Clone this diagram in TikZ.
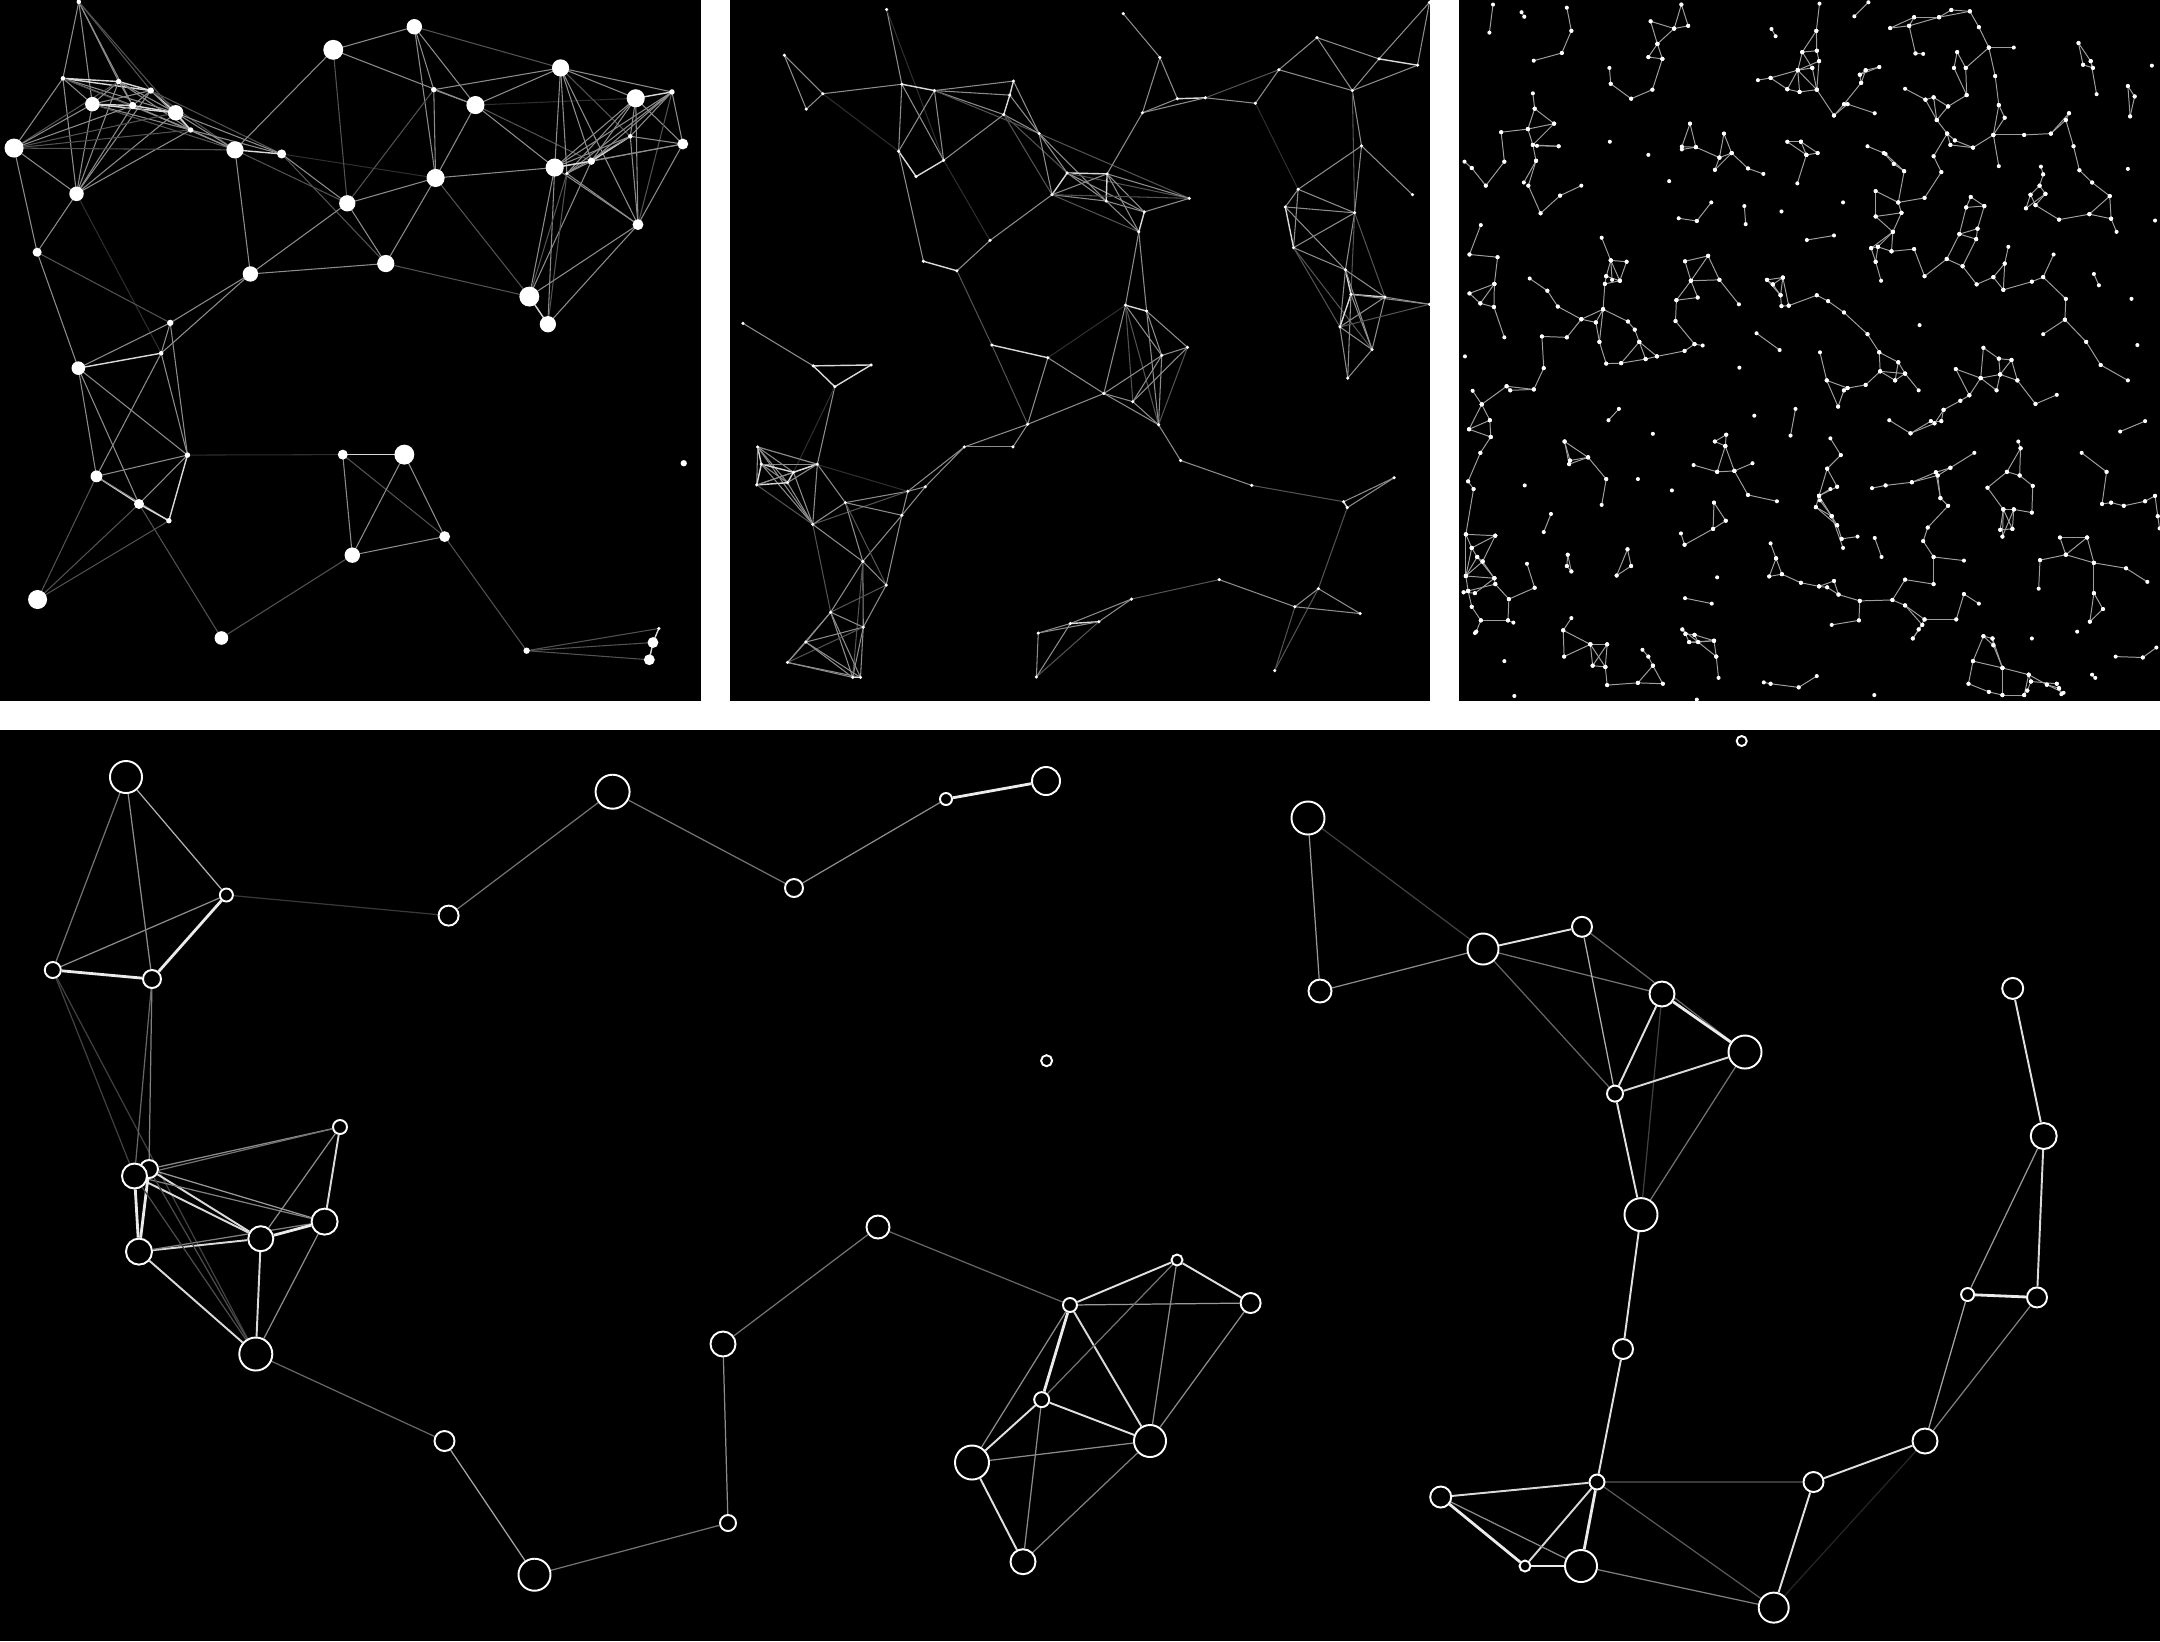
\documentclass[tikz,border=0pt]{standalone}
\pgfdeclarelayer{bg}
\pgfdeclarelayer{edgelayer}
\pgfsetlayers{bg,edgelayer,main}
\tikzset{
  eb/.style={draw=white!85!black, line width=0.4pt},
  em/.style={draw=white!55!black, line width=0.3pt},
  ed/.style={draw=white!32!black, line width=0.3pt},
  ef/.style={draw=white!18!black, line width=0.3pt},
  ethree/.style={draw=white!62!black, line width=0.28pt},
  bn/.style={circle, draw=white, fill=black, line width=0.55pt, inner sep=0pt, minimum size=#1},
  bthin/.style={draw=white!#1!black, line width=0.35pt},
  bmid/.style={draw=white!#1!black, line width=0.55pt},
  bthick/.style={draw=white!92!black, line width=0.8pt}
}
\def\panelAnodes{1/174/4/5, 2/139/173/5, 3/262/180/6, 4/333/200/7, 5/204/230/16, 6/293/233/8, 7/388/249/17, 8/421/287/6, 9/31/327/21, 10/169/428/16, 11/82/557/10, 12/519/331/19, 13/622/340/10, 14/736/110/22, 15/915/59/17, 16/958/198/6, 17/1050/232/20, 18/1238/150/19, 19/1404/217/20, 20/1484/203/6, 21/1508/318/12, 22/1392/301/5, 23/1306/356/8, 24/1225/370/20, 25/1252/383/4, 26/962/393/20, 27/767/449/18, 28/553/605/17, 29/852/582/19, 30/1409/496/12, 31/1169/655/22, 32/1210/716/18, 33/376/713/7, 34/356/780/5, 35/173/813/15, 36/414/1005/6, 37/213/1052/13, 38/307/1113/11, 39/373/1150/6, 40/83/1324/21, 41/489/1409/15, 42/757/1004/11, 43/893/1004/22, 44/982/1185/12, 45/778/1226/17, 46/1163/1437/7, 47/1455/1388/4, 48/1442/1419/12, 49/1434/1457/12, 50/1510/1023/7}
\def\panelAedges{1/2/em, 1/5/em, 1/6/em, 1/3/em, 1/7/ed, 1/4/ed,
2/9/em, 2/3/eb, 2/4/eb, 2/5/em, 2/6/em, 2/7/em, 2/10/em, 2/8/ed,
3/5/em, 3/6/em, 3/4/eb, 3/7/em, 3/10/em, 3/8/em, 3/9/ed,
4/5/em, 4/6/em, 4/7/eb, 4/8/em, 4/10/em, 4/12/ed, 4/13/ed,
5/9/em, 5/10/em, 5/6/eb, 5/7/eb, 5/8/em, 5/12/ed,
6/7/eb, 6/8/em, 6/10/em, 6/12/em, 6/9/em,
7/8/eb, 7/12/em, 7/13/em, 7/9/ed, 7/10/em,
8/12/em, 8/13/em, 8/10/em, 8/9/ed,
9/10/em, 9/11/em, 9/12/ed,
10/11/em, 10/34/ef,
11/35/em, 11/33/ed,
12/13/eb, 12/14/em, 12/28/em, 12/27/ed,
13/27/em, 13/26/ef, 13/29/ed,
14/15/em, 14/27/ed, 14/17/em,
15/16/em, 15/17/em, 15/18/ed, 15/26/em,
16/18/em, 16/17/em, 16/26/em, 16/27/ed,
17/18/em, 17/26/em, 17/24/em, 17/23/ed, 17/19/ef,
18/19/em, 18/20/em, 18/24/em, 18/23/em, 18/25/em, 18/30/em, 18/22/ed,
19/20/eb, 19/22/em, 19/24/em, 19/23/em, 19/25/em, 19/21/em, 19/30/em,
20/21/em, 20/22/em, 20/23/em, 20/24/em, 20/25/em, 20/30/ed,
21/22/em, 21/23/em, 21/24/em, 21/30/em,
22/23/eb, 22/24/em, 22/25/em, 22/30/em,
23/24/eb, 23/25/em, 23/31/em,
24/26/em, 24/31/em, 24/32/em, 24/30/em,
25/31/ed, 25/32/ed, 25/30/em,
26/27/em, 26/29/em, 26/31/ed,
27/28/em, 27/29/em,
28/29/em, 28/33/em, 28/34/em,
29/31/ed,
30/31/em, 30/32/em,
31/32/eb,
33/34/em, 33/35/em, 33/36/em,
34/35/eb, 34/36/em, 34/37/em,
35/36/em, 35/37/em, 35/38/em,
36/37/em, 36/38/em, 36/39/eb, 36/42/ef,
37/38/eb, 37/39/em, 37/40/ed,
38/39/eb, 38/40/ed, 38/41/ed,
39/40/ed,
41/45/ed,
42/43/eb, 42/44/ed, 42/45/em,
43/45/em, 43/44/em,
44/45/em, 44/46/ed,
46/47/ed, 46/48/ed, 46/49/ed,
47/48/eb, 48/49/eb}
\def\panelBnodes{1/363/21, 2/140/122, 3/224/207, 4/188/241, 5/396/186, 6/467/200, 7/639/179, 8/631/210, 9/618/253, 10/389/334, 11/487/354, 12/427/390, 13/695/295, 14/756/382, 15/843/384, 16/723/430, 17/841/444, 18/924/468, 19/1022/438, 20/912/512, 21/588/531, 22/443/577, 23/516/598, 24/878/30, 25/958/127, 26/996/218, 27/1057/216, 28/920/249, 29/1166/228, 30/1217/154, 31/1300/83, 32/1435/130, 33/1519/144, 34/1545/5, 35/1377/200, 36/1397/322, 37/1508/430, 38/1259/418, 39/1231/457, 40/1382/470, 41/1249/547, 42/1362/596, 43/1374/650, 44/1448/656, 45/1545/672, 46/1350/722, 47/1420/772, 48/1367/835, 49/883/674, 50/929/687, 51/1018/767, 52/962/785, 53/836/869, 54/899/887, 55/955/938, 56/1003/1017, 57/1158/1072, 58/1358/1108, 59/1366/1121, 60/1468/1055, 61/592/762, 62/714/790, 63/670/937, 64/638/987, 65/532/987, 66/447/1075, 67/409/1085, 68/396/1138, 69/50/714, 70/203/808, 71/329/806, 72/250/854, 73/82/987, 74/90/1025, 75/80/1071, 76/160/1043, 77/147/1066, 78/212/1025, 79/273/1110, 80/202/1158, 81/311/1240, 82/362/1292, 83/241/1352, 84/312/1385, 85/187/1418, 86/147/1463, 87/289/1496, 88/306/1496, 89/1087/1280, 90/896/1323, 91/825/1373, 92/763/1377, 93/693/1398, 94/689/1495, 95/1303/1300, 96/1252/1340, 97/1394/1355, 98/1208/1481}
\def\panelBedges{2/3/em, 2/4/em, 3/4/em, 3/5/em, 3/10/ef, 1/5/em, 1/11/ef, 5/6/eb, 5/10/em, 5/11/em, 6/10/em, 6/11/em, 6/7/em, 6/8/em, 6/9/em, 6/13/ed, 7/8/eb, 7/13/em, 8/9/eb, 8/13/em, 9/13/em, 9/11/em, 9/16/ed, 9/14/ed, 16/21/em, 10/12/eb, 10/22/em, 11/12/eb, 11/21/ef, 13/14/em, 13/16/em, 13/17/em, 13/19/ed, 14/15/eb, 14/16/eb, 14/17/em, 14/18/em, 14/19/ed, 15/16/em, 15/17/eb, 15/18/em, 15/19/em, 15/20/em, 15/28/em, 16/17/em, 16/20/ed, 16/19/ed, 17/18/em, 17/20/em, 18/19/em, 18/20/eb, 20/49/em, 20/50/em, 21/23/em, 22/23/eb, 23/61/ed, 24/25/em, 25/26/em, 25/28/em, 26/27/eb, 28/27/em, 28/26/em, 27/29/em, 27/30/ed, 29/30/em, 29/38/ef, 30/31/em, 30/35/em, 31/32/em, 31/35/em, 32/33/eb, 32/35/em, 34/33/em, 34/32/em, 35/33/em, 35/36/em, 35/40/ed, 36/37/em, 36/38/em, 36/40/em, 38/39/em, 38/40/em, 38/41/em, 39/40/em, 39/41/eb, 39/42/em, 40/41/em, 40/42/em, 40/43/ed, 40/44/ed, 41/42/em, 41/47/ed, 41/46/ed, 42/43/eb, 42/44/em, 42/46/em, 42/47/em, 43/44/eb, 43/46/eb, 43/47/em, 43/48/em, 43/45/em, 44/45/em, 44/46/em, 44/47/em, 45/46/ed, 46/47/em, 46/48/em, 47/48/em, 49/50/eb, 49/52/em, 49/53/em, 49/54/ed, 49/55/ed, 50/51/em, 50/52/em, 50/55/em, 51/52/em, 51/54/em, 51/55/ed, 52/53/em, 52/54/em, 52/55/em, 53/54/em, 53/55/em, 53/62/em, 53/63/em, 54/55/em, 55/56/em, 56/57/em, 57/58/ed, 58/59/eb, 59/60/em, 58/60/em, 59/95/ed, 61/62/eb, 61/63/ed, 62/63/em, 62/49/ef, 63/64/em, 63/65/em, 64/65/em, 65/66/em, 65/67/em, 66/67/em, 66/68/em, 67/68/em, 67/79/em, 67/80/ed, 67/73/ef, 68/79/em, 68/81/em, 68/82/em, 69/70/em, 70/71/eb, 70/72/eb, 71/72/eb, 72/78/em, 72/76/ef, 73/74/eb, 73/75/em, 73/76/em, 73/77/em, 73/78/em, 73/80/em, 74/75/eb, 74/76/eb, 74/77/em, 74/78/em, 74/80/em, 75/76/em, 75/77/eb, 75/78/em, 75/80/ed, 76/77/eb, 76/78/eb, 76/80/em, 77/78/em, 77/80/em, 78/79/em, 78/80/em, 79/80/em, 79/81/em, 79/82/ed, 80/81/em, 80/83/ed, 81/82/em, 81/83/em, 81/84/em, 81/87/ed, 82/84/em, 82/83/ed, 83/84/em, 83/85/em, 83/86/em, 83/87/em, 83/88/em, 84/85/em, 84/87/em, 84/88/em, 84/86/ed, 85/86/em, 85/87/em, 85/88/em, 86/87/em, 86/88/em, 87/88/eb, 89/90/ed, 89/96/em, 90/91/em, 90/92/em, 91/92/eb, 91/93/em, 91/94/ed, 92/93/em, 92/94/em, 93/94/em, 95/96/em, 95/97/em, 95/98/ed, 96/97/em, 96/98/ed}
\def\panelCedges{95/10/87/72, 158/27/164/37, 258/17/268/68, 268/68/247/117, 247/117/185/134,
443/47/458/97, 443/47/495/63, 458/97/438/126, 458/97/469/130, 438/126/469/130, 458/97/495/63, 495/63/526/57, 495/63/511/10, 511/10/526/57, 469/130/447/198, 447/198/400/218, 400/218/355/185, 355/185/352/150,
710/64/719/80,
816/8/809/68, 809/68/778/115, 809/68/810/112, 778/115/810/112, 778/115/768/155, 768/155/800/150, 768/155/815/135, 768/155/745/197, 768/155/772/203, 768/155/810/198, 800/150/810/198, 815/135/810/198, 778/115/800/150, 810/112/815/135, 745/197/772/203, 772/203/810/198, 708/172/680/177, 708/172/768/155, 708/172/745/197, 810/198/848/255,
893/36/924/5,
905/165/918/155, 918/155/948/148, 905/165/948/148, 905/165/908/183, 908/183/870/230, 870/230/848/255, 878/230/848/255, 878/230/938/250, 918/155/908/183,
972/62/1025/38, 972/62/1014/57, 1014/57/1025/38, 1025/38/1080/38, 1080/38/1107/22, 1107/22/1148/25, 1148/25/1168/60, 1168/60/1190/105, 1190/105/1245/105, 1190/105/1204/168, 1204/168/1212/232, 1014/57/1028/118, 1028/118/1045/119, 1120/115/1139/150, 1120/115/1113/150, 1139/150/1190/105, 1139/150/1141/210, 1113/150/1141/210, 1014/57/1080/38, 1080/38/1148/25,
1388/95/1415/135, 1388/95/1398/143, 1398/143/1420/150, 1415/135/1420/150, 1415/135/1428/208,
1497/190/1512/213, 1512/213/1502/257, 1497/190/1502/257,
183/206/187/240, 187/240/230/273, 187/240/172/285, 172/285/230/273, 113/292/172/285, 172/285/183/320, 183/320/240/323, 183/320/230/273, 192/322/240/323, 183/320/190/355, 190/355/163/403, 190/355/173/410, 120/357/79/410, 120/357/113/292, 79/410/48/371, 48/371/32/357, 173/410/200/471, 200/471/243/432, 243/432/290/410,
530/273/512/324, 530/273/543/325, 512/324/543/325, 512/330/543/325, 543/325/595/348, 605/295/595/348, 605/295/622/338, 595/348/622/338, 595/348/585/375, 622/338/585/375, 622/338/658/372, 658/372/692/384,
745/313/775/313, 775/313/787/342, 775/313/812/338, 787/342/812/338, 745/313/787/342, 787/342/767/405,
922/323/958/338, 958/338/980/362, 962/340/1003/378, 980/362/1003/378,
1005/196/1050/220, 1050/220/1068/215, 1050/220/1075/265, 1068/215/1100/235, 1068/215/1075/265, 1100/235/1075/265, 1075/265/1098/295, 1098/295/1105/320, 1098/295/1115/310, 1105/320/1155/326, 1115/310/1155/326, 1068/345/1098/295, 1068/345/1085/380, 1155/326/1200/298, 1200/298/1212/232, 1200/298/1268/298, 1268/298/1327/295, 1327/295/1367/250, 1327/295/1360/265, 1360/265/1367/250, 1360/265/1377/323, 1377/323/1390/376, 1390/376/1418/403, 1200/298/1212/367, 1141/210/1100/235, 1212/232/1225/260, 1225/260/1200/298,
1305/368/1310/385, 1310/385/1302/410, 1302/410/1315/428, 1302/410/1282/430, 1282/430/1272/460, 1282/430/1293/453, 1293/453/1315/428, 1272/460/1315/428, 1293/453/1345/485, 1345/485/1412/473, 1412/473/1460/483, 1460/483/1472/512, 1412/473/1457/433, 1457/433/1418/403, 1457/433/1460/483,
940/422/990/447, 940/422/940/478, 990/447/997/470, 990/447/1048/437, 997/470/940/478, 997/470/978/512, 940/478/978/512, 978/512/930/548, 978/512/945/545, 978/512/975/555, 930/548/945/545, 945/545/975/555, 930/548/940/578, 945/545/940/578, 940/578/952/620, 975/555/1025/550, 1025/550/1048/610, 1003/378/990/447, 1085/380/1048/437,
1150/435/1180/455, 1150/435/1140/458, 1140/458/1180/455, 1140/458/1125/517, 1180/455/1165/505, 1165/505/1125/517, 1165/505/1162/528, 1125/517/1162/528, 1125/517/1097/572, 1162/528/1132/588, 1097/572/1132/588, 1097/572/1048/610, 1132/588/1163/628, 1163/628/1200/612, 1200/612/1225/582, 1225/582/1233/545, 1200/612/1222/640, 1225/582/1222/640, 1222/640/1285/622, 1285/622/1310/612, 1310/612/1333/562,
505/482/545/488, 545/488/577/447, 650/455/653/495, 788/530/848/520,
68/497/43/562, 43/562/105/568, 105/568/98/627, 98/627/43/648, 98/627/67/670, 43/648/67/670, 67/670/97/678, 98/627/97/678, 97/678/120/745,
335/525/355/575, 355/575/390/578, 355/575/345/610, 355/575/375/620, 390/578/375/620, 345/610/375/620, 342/627/375/620, 345/610/342/627, 355/575/358/618, 342/627/338/683,
176/615/215/642, 215/642/238/677, 238/677/290/705, 290/705/322/712, 290/705/338/683, 322/712/338/683, 322/712/330/755, 290/705/258/745, 258/745/203/743, 203/743/207/813, 330/755/345/803, 338/683/393/710, 393/710/408/728, 408/728/418/755, 418/755/432/793, 418/755/457/787, 432/793/457/787, 345/803/378/802, 378/802/432/793, 378/802/418/755, 457/787/518/775, 518/775/540/760, 540/760/558/763, 498/709/540/760, 498/709/500/663, 338/683/330/755,
519/577/570/565, 519/577/532/620, 570/565/595/618, 570/565/532/620, 532/620/595/618, 532/620/500/663, 532/620/547/657, 500/663/547/657, 595/618/638/672,
700/618/735/613, 700/618/713/628, 713/628/735/613, 713/628/730/652, 735/613/730/652, 700/618/730/652, 730/652/732/676, 735/613/748/675, 732/676/748/675, 748/675/810/652, 810/652/835/665, 835/665/870/690, 870/690/922/738,
1360/660/1358/706, 1358/706/1310/738, 1358/706/1405/755, 1405/755/1437/806, 1437/806/1497/840, 1310/612/1360/660,
1422/605/1433/630, 677/736/728/773,
922/738/948/778, 948/778/990/800, 948/778/950/820, 990/800/1005/825, 990/800/983/840, 950/820/1005/825, 950/820/983/840, 1005/825/983/840, 950/820/918/850, 918/850/878/857, 878/857/870/862, 870/862/857/898, 832/840/878/857, 832/840/857/898, 817/778/832/840, 1005/825/1035/862,
1117/815/1172/835, 1178/768/1212/792, 1178/768/1172/835, 1212/792/1240/795, 1212/792/1215/827, 1240/795/1253/840, 1215/827/1253/840, 1215/827/1172/835, 1215/827/1207/862, 1172/835/1207/862, 1240/795/1215/827, 1172/835/1147/873, 1147/873/1127/885, 1127/885/1090/905, 1090/905/1085/930, 1090/905/1070/935, 1085/930/1062/930, 1070/935/1017/957, 1062/930/1017/957, 970/928/1017/957, 1117/815/1147/873, 1253/840/1293/892, 1293/892/1340/872,
1535/930/1480/953,
50/863/70/893, 70/893/42/948, 70/893/88/928, 42/948/88/928, 42/948/90/965, 88/928/90/965, 90/965/67/1000, 67/1000/40/1063, 40/1063/52/1080, 52/1080/35/1180, 70/893/125/853,
125/853/133/862, 133/862/185/860, 125/853/185/860, 185/860/207/813,
350/928/373/903, 763/903/752/962,
253/975/265/1017, 253/975/263/1025, 265/1017/305/1010, 263/1025/305/1010, 253/975/305/1010, 305/1010/345/1058, 345/1058/335/1115,
585/975/610/960, 585/975/608/985, 610/960/608/985, 608/985/590/1042, 608/985/628/1040, 538/1027/590/1042, 590/1042/628/1040, 628/1040/668/1023, 628/1040/658/1093, 658/1093/722/1107, 583/1110/609/1150, 609/1150/581/1168, 583/1110/581/1168,
840/968/863/1005, 863/1005/833/1035, 833/1035/855/1075, 833/1035/815/1095, 855/1075/815/1095, 840/1080/815/1095, 815/1095/808/1120, 815/1095/843/1140, 808/1120/843/1140, 817/1105/843/1140, 808/1120/855/1160, 843/1140/855/1160, 855/1160/865/1190, 843/1140/868/1210, 865/1190/900/1185, 938/1188/953/1230,
932/1078/962/1072, 962/1072/1020/1065, 1020/1065/1073/1043, 1020/1065/1077/1050, 1073/1043/1105/1033, 1077/1050/1105/1033, 1105/1033/1158/1000, 1073/1043/1083/1100, 1077/1050/1083/1100, 1083/1100/1100/1117, 1100/1117/1055/1165, 1055/1165/1045/1195, 1045/1195/1068/1230, 1068/1230/1135/1238,
1255/975/1260/990, 1260/990/1230/1042, 1260/990/1258/1050, 1230/1042/1258/1050, 1230/1042/1187/1077, 1258/1050/1287/1073, 1187/1077/1222/1125, 1287/1073/1285/1132, 1222/1125/1245/1125, 1245/1125/1285/1132, 1222/1125/1215/1170, 1222/1125/1220/1185, 1245/1125/1242/1168, 1215/1170/1242/1168, 1222/1125/1242/1168, 1245/1125/1220/1185,
1395/1000/1450/1042, 1450/1042/1440/1113, 1440/1113/1460/1110, 1460/1110/1488/1117, 1488/1117/1535/1107, 1535/1107/1557/1095, 1557/1095/1563/1140, 1563/1140/1567/1167,
223/1135/207/1175, 510/1178/518/1203, 518/1203/581/1168,
35/1180/100/1183, 35/1180/48/1210, 48/1210/60/1230, 48/1210/100/1183, 60/1230/72/1240, 60/1230/35/1272, 72/1240/98/1277, 72/1240/35/1272, 35/1272/98/1277, 35/1272/40/1305, 98/1277/100/1290, 100/1290/40/1305, 40/1305/30/1308, 30/1308/55/1310, 40/1305/48/1340, 48/1340/68/1370, 68/1370/58/1395, 58/1395/55/1398, 68/1370/128/1370, 100/1290/130/1323, 130/1323/128/1370, 128/1370/140/1375, 130/1323/187/1298, 60/1230/98/1277, 100/1183/72/1240, 48/1210/35/1272, 55/1310/98/1277, 35/1180/35/1272, 170/1245/187/1298,
260/1225/258/1250, 258/1250/268/1262, 260/1225/268/1262,
392/1213/400/1250, 400/1250/368/1271, 392/1213/368/1271,
519/1321/578/1333,
708/1200/720/1233, 720/1233/705/1273, 720/1233/733/1268, 705/1273/733/1268, 733/1268/775/1287, 775/1287/815/1295, 815/1295/848/1283, 815/1295/833/1297, 848/1283/858/1313, 833/1297/858/1313, 858/1313/905/1327, 905/1327/903/1370, 903/1370/843/1380,
1005/1280/1068/1290, 1005/1280/977/1325, 977/1325/1005/1337, 1005/1337/1048/1368, 1005/1337/1043/1380, 1048/1368/1035/1390, 1035/1390/1022/1410, 1043/1380/1022/1410, 1048/1368/1118/1368, 1118/1368/1135/1312, 1135/1312/1168/1333, 1068/1290/1068/1230, 905/1327/977/1325,
1303/1237/1360/1225, 1347/1187/1360/1225, 1347/1187/1407/1187, 1360/1225/1407/1187, 1360/1225/1422/1243, 1407/1187/1422/1243, 1422/1243/1493/1255, 1493/1255/1540/1285, 1422/1243/1422/1310, 1422/1310/1442/1345, 1442/1345/1413/1373, 1422/1310/1413/1373, 1300/1300/1303/1237,
250/1392/268/1365, 250/1392/252/1450, 252/1450/310/1423, 310/1423/347/1423, 310/1423/315/1470, 347/1423/343/1473, 310/1423/343/1473, 347/1423/315/1470, 315/1470/343/1473, 343/1473/347/1513, 347/1513/415/1508, 415/1508/470/1510, 415/1508/448/1470, 448/1470/470/1510, 448/1470/438/1450, 438/1450/425/1435, 250/1392/310/1423,
513/1390/520/1400, 520/1400/540/1402, 520/1400/528/1418, 540/1402/548/1418, 528/1418/548/1418, 540/1402/583/1415, 548/1418/583/1415, 583/1415/588/1450, 588/1450/593/1497, 513/1390/588/1450, 528/1418/583/1415,
693/1507/708/1510, 708/1510/770/1518, 770/1518/810/1493,
1178/1405/1198/1410, 1198/1410/1200/1425, 1178/1405/1155/1460, 1178/1405/1200/1425, 1200/1425/1220/1475, 1155/1460/1145/1510, 1145/1510/1190/1528, 1190/1528/1220/1535, 1220/1535/1268/1535, 1220/1475/1278/1490, 1220/1475/1220/1535, 1278/1490/1283/1505, 1283/1505/1275/1525, 1275/1525/1268/1535, 1278/1490/1318/1512, 1318/1512/1345/1520, 1345/1520/1350/1533, 1318/1512/1355/1530, 1340/1510/1345/1520, 1470/1450/1530/1452, 1530/1452/1560/1430, 1418/1490/1425/1497, 1155/1460/1220/1475, 1198/1410/1220/1475, 1278/1490/1268/1535, 1283/1505/1340/1510}
\def\panelCsingles{353/313, 438/342, 484/400, 732/467, 868/447, 1497/373, 1557/487, 1550/145, 33/787, 639/812, 165/1072, 415/1058, 490/1083, 448/958, 672/918, 1505/660, 1518/762, 1037/718, 120/1460, 142/1537, 545/1545, 937/1535, 1285/1410, 590/1275, 1385/1395}
\begin{document}
\begin{tikzpicture}[x=0.01cm,y=-0.01cm]
\useasboundingbox (0,0) rectangle (2160,1641);
\begin{pgfonlayer}{bg}
\fill[white] (0,0) rectangle (2160,1641);
\fill[black] (0,0) rectangle (700.7,700.7);
\fill[black] (729.7,0) rectangle (1430.3,700.7);
\fill[black] (1459.3,0) rectangle (2160,700.7);
\fill[black] (0,729.7) rectangle (2160,1641);
\end{pgfonlayer}
% ---------- panel 1 ----------
\begin{scope}[scale=0.4528]
\foreach \n/\x/\y/\r in \panelAnodes { \coordinate (a\n) at (\x,\y); }
\begin{pgfonlayer}{edgelayer}
\foreach \p/\q/\s in \panelAedges { \draw[\s] (a\p) -- (a\q); }
\end{pgfonlayer}
\foreach \n/\x/\y/\r in \panelAnodes { \fill[white] (a\n) circle (\r); }
\end{scope}
% ---------- panel 2 ----------
\begin{scope}[shift={(720,0)}, xscale=0.4592, yscale=0.4528]
\foreach \n/\x/\y in \panelBnodes { \coordinate (b\n) at (\x,\y); }
\begin{pgfonlayer}{edgelayer}
\foreach \p/\q/\s in \panelBedges { \draw[\s] (b\p) -- (b\q); }
\end{pgfonlayer}
\foreach \n/\x/\y in \panelBnodes { \fill[white] (b\n) circle (3.8); }
\end{scope}
% ---------- panel 3 ----------
\begin{scope}[shift={(1450,0)}, scale=0.4528]
\begin{pgfonlayer}{edgelayer}
\foreach \xa/\ya/\xb/\yb in \panelCedges { \draw[ethree] (\xa,\ya) -- (\xb,\yb); }
\end{pgfonlayer}
\foreach \xa/\ya/\xb/\yb in \panelCedges { \fill[white] (\xa,\ya) circle (4.5); \fill[white] (\xb,\yb) circle (4.5); }
\foreach \xa/\ya in \panelCsingles { \fill[white] (\xa,\ya) circle (4.5); }
\end{scope}
% ---------- bottom panel ----------
\node[bn=3.2mm] (L1) at (126,777) {};
\node[bn=1.3mm] (L2) at (226.4,895) {};
\node[bn=1.6mm] (L3) at (52.8,970) {};
\node[bn=1.8mm] (L4) at (152,979) {};
\node[bn=2.0mm] (L5) at (448.6,915.6) {};
\node[bn=3.4mm] (L6) at (612.6,791.7) {};
\node[bn=1.4mm] (L7) at (340,1127) {};
\node[bn=1.8mm] (L8) at (149,1169) {};
\node[bn=2.5mm] (L9) at (134.5,1176) {};
\node[bn=2.6mm] (L10) at (324.6,1221.6) {};
\node[bn=2.5mm] (L11) at (260.8,1238.7) {};
\node[bn=2.6mm] (L12) at (139,1251.6) {};
\node[bn=3.3mm] (L13) at (255.8,1354) {};
\node[bn=2.0mm] (L14) at (444.5,1441) {};
\node[bn=3.2mm] (L15) at (534.5,1574.7) {};
\node[bn=2.5mm] (N16) at (723,1344) {};
\node[bn=2.3mm] (N17) at (878,1227) {};
\node[bn=1.6mm] (N18) at (728,1523) {};
\node[bn=1.8mm] (B1) at (794,888) {};
\node[bn=1.2mm] (B2) at (946,799) {};
\node[bn=2.8mm] (B3) at (1046,781) {};
\node[bn=3.3mm] (R1) at (1308,818) {};
\node[bn=2.3mm] (R2) at (1320,991) {};
\node[bn=1.1mm] (I1) at (1046.6,1060.7) {};
\node[bn=1.0mm] (I2) at (1741.7,741) {};
\node[bn=1.4mm] (M1) at (1070,1305) {};
\node[bn=1.1mm] (M2) at (1177,1260) {};
\node[bn=2.0mm] (M3) at (1250.6,1303) {};
\node[bn=1.5mm] (M4) at (1041.7,1399.6) {};
\node[bn=3.2mm] (M5) at (1150,1441) {};
\node[bn=3.4mm] (M6) at (972,1462.5) {};
\node[bn=2.5mm] (M7) at (1023,1561.7) {};
\node[bn=3.1mm] (C1) at (1483,949) {};
\node[bn=2.0mm] (C2) at (1582,926.8) {};
\node[bn=2.5mm] (C3) at (1662,994) {};
\node[bn=3.3mm] (C4) at (1745,1052) {};
\node[bn=1.6mm] (C5) at (1615,1093.6) {};
\node[bn=3.3mm] (C6) at (1641,1214.6) {};
\node[bn=2.0mm] (C7) at (1623,1349) {};
\node[bn=1.5mm] (C8) at (1597,1482) {};
\node[bn=2.1mm] (C9) at (1440.7,1497) {};
\node[bn=1.1mm] (C10) at (1525,1566) {};
\node[bn=3.2mm] (C11) at (1581,1566) {};
\node[bn=3.0mm] (C12) at (1773.7,1607.6) {};
\node[bn=2.0mm] (C13) at (1813.5,1482) {};
\node[bn=2.5mm] (C14) at (1925,1441) {};
\node[bn=2.1mm] (D1) at (2012.7,988.4) {};
\node[bn=2.6mm] (D2) at (2043.7,1136) {};
\node[bn=1.3mm] (D3) at (1967.6,1294.5) {};
\node[bn=2.0mm] (D4) at (2037,1297.4) {};
\begin{pgfonlayer}{edgelayer}
\draw[bthin=70] (L1) -- (L2);
\draw[bthin=45] (L1) -- (L3);
\draw[bthin=55] (L1) -- (L4);
\draw[bthin=55] (L2) -- (L3);
\draw[bthick] (L2) -- (L4);
\draw[bthick] (L3) -- (L4);
\draw[bthin=22] (L2) -- (L5);
\draw[bthin=45] (L5) -- (L6);
\draw[bthin=45] (L6) -- (B1);
\draw[bthin=55] (B1) -- (B2);
\draw[bthick] (B2) -- (B3);
\draw[bthin=25] (L3) -- (L9);
\draw[bthin=25] (L3) -- (L13);
\draw[bthin=50] (L4) -- (L8);
\draw[bthin=40] (L4) -- (L9);
\draw[bthin=55] (L7) -- (L8);
\draw[bthin=45] (L7) -- (L9);
\draw[bmid=85] (L7) -- (L10);
\draw[bthin=55] (L7) -- (L11);
\draw[bthin=60] (L8) -- (L10);
\draw[bmid=85] (L8) -- (L11);
\draw[bmid=85] (L9) -- (L11);
\draw[bthin=50] (L9) -- (L10);
\draw[bthick] (L8) -- (L12);
\draw[bthick] (L9) -- (L12);
\draw[bmid=85] (L12) -- (L11);
\draw[bthin=50] (L12) -- (L10);
\draw[bthick] (L11) -- (L10);
\draw[bmid=85] (L12) -- (L13);
\draw[bmid=85] (L11) -- (L13);
\draw[bthin=55] (L10) -- (L13);
\draw[bthin=30] (L9) -- (L13);
\draw[bthin=30] (L8) -- (L13);
\draw[bthin=40] (L13) -- (L14);
\draw[bthin=65] (L14) -- (L15);
\draw[bthin=45] (L15) -- (N18);
\draw[bthin=55] (N18) -- (N16);
\draw[bthin=45] (N16) -- (N17);
\draw[bthin=40] (N17) -- (M1);
\draw[bmid=88] (M1) -- (M2);
\draw[bmid=88] (M2) -- (M3);
\draw[bthin=60] (M1) -- (M3);
\draw[bthick] (M1) -- (M4);
\draw[bmid=85] (M1) -- (M5);
\draw[bthin=55] (M1) -- (M6);
\draw[bthin=45] (M2) -- (M4);
\draw[bthin=55] (M2) -- (M5);
\draw[bthin=55] (M3) -- (M5);
\draw[bmid=88] (M4) -- (M5);
\draw[bmid=88] (M4) -- (M6);
\draw[bthin=55] (M4) -- (M7);
\draw[bthin=55] (M6) -- (M5);
\draw[bmid=88] (M6) -- (M7);
\draw[bthin=50] (M7) -- (M5);
\draw[bthin=60] (R1) -- (R2);
\draw[bthin=25] (R1) -- (C1);
\draw[bthin=55] (R2) -- (C1);
\draw[bmid=88] (C1) -- (C2);
\draw[bthin=45] (C1) -- (C3);
\draw[bthin=40] (C1) -- (C5);
\draw[bthin=40] (C2) -- (C4);
\draw[bthin=70] (C2) -- (C5);
\draw[bthick] (C3) -- (C4);
\draw[bmid=88] (C3) -- (C5);
\draw[bthin=25] (C3) -- (C6);
\draw[bmid=85] (C4) -- (C5);
\draw[bthin=45] (C4) -- (C6);
\draw[bmid=88] (C5) -- (C6);
\draw[bmid=88] (C6) -- (C7);
\draw[bmid=88] (C7) -- (C8);
\draw[bmid=85] (C8) -- (C9);
\draw[bmid=85] (C8) -- (C10);
\draw[bthick] (C8) -- (C11);
\draw[bthick] (C9) -- (C10);
\draw[bthin=55] (C9) -- (C11);
\draw[bthick] (C10) -- (C11);
\draw[bthin=22] (C8) -- (C13);
\draw[bthin=35] (C8) -- (C12);
\draw[bthin=50] (C11) -- (C12);
\draw[bmid=88] (C12) -- (C13);
\draw[bmid=88] (C13) -- (C14);
\draw[bthin=15] (C12) -- (C14);
\draw[bthin=65] (C14) -- (D3);
\draw[bthin=50] (C14) -- (D4);
\draw[bthick] (D3) -- (D4);
\draw[bthin=60] (D3) -- (D2);
\draw[bmid=85] (D4) -- (D2);
\draw[bmid=88] (D2) -- (D1);
\end{pgfonlayer}
\end{tikzpicture}
\end{document}
